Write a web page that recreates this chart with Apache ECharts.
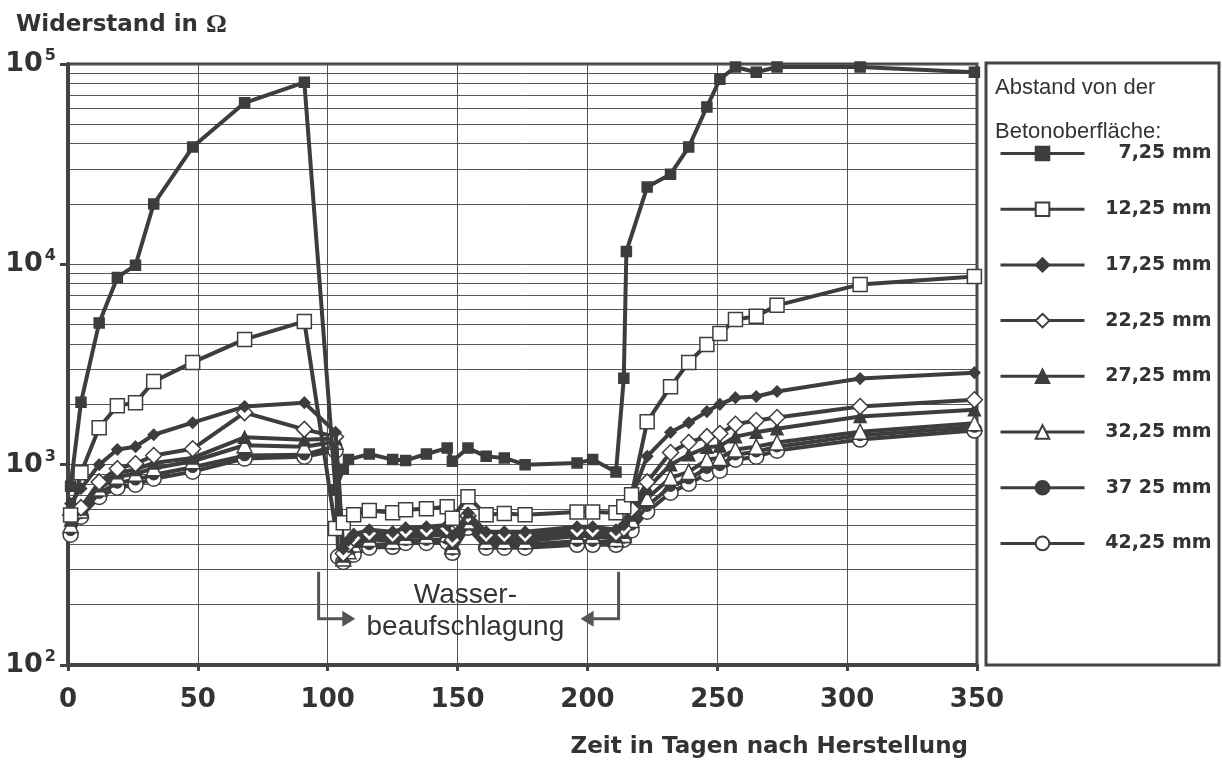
<!DOCTYPE html>
<html>
<head>
<meta charset="utf-8">
<title>Widerstand in Ohm</title>
<script src="https://cdn.jsdelivr.net/npm/echarts@6/dist/echarts.min.js"></script>
<style>
  html, body { margin: 0; padding: 0; background: #fff; }
  #chart { width: 1223px; height: 765px; }
</style>
</head>
<body>
<div id="chart"></div>
<script>
// Messtage (Tage nach Herstellung); null = kein Messpunkt fuer diese Reihe
const days = [1, 5, 12, 19, 26, 33, 48, 68, 91,
  103, 104, 106, 108, 110,
  116, 125, 130, 138, 146, 148, 154, 161, 168, 176,
  196, 202, 211, 214, 215, 217,
  223, 232, 239, 246, 251, 257, 265, 273, 305, 349];

const s725 = [780, 2050, 5100, 8600, 9900, 20000, 38500, 64000, 81000,
  750, null, 950, 1060, null,
  1130, 1060, 1050, 1130, 1210, 1040, 1210, 1100, 1080, 1000,
  1020, 1060, 920, 2700, 11600, null,
  24300, 28200, 38500, 61000, 84000, 96600, 91000, 96600, 96600, 91000];
const s1225 = [560, 910, 1530, 1970, 2040, 2600, 3240, 4220, 5190,
  480, null, 513, null, 562,
  590, 575, 596, 603, 617, 540, 692, 562, 570, 562,
  580, 580, 575, 617, null, 708,
  1640, 2450, 3240, 3980, 4520, 5300, 5500, 6240, 7940, 8700];
const s1725 = [640, 760, 1000, 1190, 1230, 1410, 1620, 1950, 2040,
  1450, null, 380, 420, 450,
  473, 462, 484, 490, 500, 440, 575, 462, 462, 462,
  490, 490, 473, 500, null, 690,
  1100, 1450, 1620, 1840, 2000, 2160, 2190, 2320, 2690, 2880];
const s2225 = [560, 610, 820, 955, 1010, 1110, 1200, 1820, 1500,
  1380, null, 360, 400, 430,
  455, 445, 465, 470, 480, 420, 555, 445, 445, 445,
  470, 470, 455, 480, null, 600,
  820, 1150, 1290, 1380, 1430, 1590, 1660, 1720, 1950, 2110];
const s2725 = [530, 600, 785, 910, 945, 1020, 1080, 1370, 1330,
  1350, null, 350, 385, 415,
  440, 430, 450, 455, 465, 405, 540, 430, 430, 430,
  455, 455, 440, 460, null, 560,
  760, 1000, 1120, 1220, 1240, 1380, 1450, 1510, 1740, 1880];
const s3225 = [500, 590, 760, 870, 900, 960, 1040, 1250, 1230,
  1300, null, 340, 370, 400,
  425, 415, 435, 440, 450, 390, 520, 415, 415, 415,
  440, 440, 425, 445, null, 530,
  680, 860, 920, 1060, 1080, 1190, 1230, 1290, 1460, 1610];
const s3725 = [470, 570, 720, 810, 840, 890, 970, 1110, 1120,
  1240, null, 335, 360, 385,
  400, 400, 420, 420, 425, 375, 500, 400, 400, 400,
  415, 415, 410, 430, null, 500,
  620, 780, 850, 960, 990, 1120, 1160, 1230, 1400, 1540];
const s4225 = [447, 550, 690, 767, 794, 851, 923, 1072, 1096,
  1175, 347, 327, null, 355,
  385, 389, 407, 407, 410, 363, 484, 385, 385, 385,
  398, 398, 398, 422, null, 470,
  582, 724, 804, 902, 933, 1059, 1096, 1175, 1334, 1480];

const names = ["7,25 mm", "12,25 mm", "17,25 mm", "22,25 mm",
  "27,25 mm", "32,25 mm", "37 25 mm", "42,25 mm"];
const values = [s725, s1225, s1725, s2225, s2725, s3225, s3725, s4225];

// log-Hilfslinien 2..9 je Dekade
const mantissas = [2, 3, 4, 5, 6, 7, 8, 9];
const decades = [100, 1000, 10000];

// Annotation "Wasserbeaufschlagung" (Tag, Widerstand)
const bracketLeft = [[96.5, 292], [96.5, 170], [106, 170]];
const bracketRight = [[212, 292], [212, 170], [202, 170]];
const noteText = [[153, 222, "Wasser-"], [153, 154, "beaufschlagung"]];

const ink = "#3d3d3d";
const gridInk = "#555";
const sans = "Liberation Sans, Arial, sans-serif";
const wide = "DejaVu Sans, sans-serif";

const markers = [
  { symbol: "rect", size: 10, filled: true },
  { symbol: "rect", size: 14, filled: false },
  { symbol: "diamond", size: 11, filled: true },
  { symbol: "diamond", size: 16, filled: false },
  { symbol: "triangle", size: 12, filled: true },
  { symbol: "triangle", size: 15, filled: false },
  { symbol: "circle", size: 10, filled: true },
  { symbol: "circle", size: 15, filled: false },
];

function pairs(vals) {
  return days.map((d, i) => [d, vals[i]]).filter((p) => p[1] != null);
}

const chart = echarts.init(document.getElementById("chart"));

const minorLines = [];
decades.forEach((d) => {
  mantissas.forEach((m) => minorLines.push({ yAxis: d * m }));
});

const dataSeries = names.map((name, i) => ({
  name: name,
  type: "line",
  data: pairs(values[i]),
  symbol: markers[i].symbol,
  symbolSize: markers[i].size,
  showSymbol: true,
  lineStyle: { color: ink, width: 4 },
  itemStyle: {
    color: markers[i].filled ? ink : "#fff",
    borderColor: ink,
    borderWidth: 1.5,
  },
  emphasis: { disabled: true },
  z: 10 + (8 - i),
}));

const option = {
  animation: false,
  backgroundColor: "#fff",
  title: [
    {
      text: "{a|Widerstand in }{o|Ω}",
      left: 11,
      top: 7,
      textStyle: {
        rich: {
          a: { fontFamily: wide, fontSize: 23, fontWeight: "bold", color: "#333" },
          o: { fontFamily: "Liberation Serif, serif", fontSize: 26, color: "#333" },
        },
      },
    },
    {
      text: "Zeit in Tagen nach Herstellung",
      right: 250,
      top: 731,
      textStyle: { fontFamily: wide, fontSize: 23, fontWeight: "bold", color: "#333" },
    },
  ],
  grid: {
    left: 68,
    right: 246,
    top: 64,
    bottom: 100,
    show: true,
    borderColor: "#444",
    borderWidth: 3,
  },
  legend: {
    data: names,
    orient: "vertical",
    left: 994,
    top: 139,
    itemWidth: 84,
    itemHeight: 17,
    itemGap: 36.7,
    lineStyle: { width: 3 },
    selectedMode: false,
    formatter: (n) => "{r|" + n + "}",
    textStyle: {
      rich: {
        r: {
          width: 122,
          align: "right",
          fontFamily: wide,
          fontSize: 19,
          fontWeight: "bold",
          color: "#333",
          lineHeight: 22,
        },
      },
    },
  },
  xAxis: {
    type: "value",
    min: 0,
    max: 350,
    interval: 50,
    axisLine: { show: true, lineStyle: { color: "#444", width: 4 } },
    axisTick: { show: true, length: 6, lineStyle: { color: "#444", width: 3 } },
    axisLabel: {
      margin: 22,
      fontFamily: wide,
      fontSize: 26,
      fontWeight: "bold",
      color: "#333",
    },
    splitLine: { show: true, lineStyle: { color: gridInk, width: 1 } },
  },
  yAxis: {
    type: "log",
    logBase: 10,
    min: 100,
    max: 100000,
    axisLine: { show: true, lineStyle: { color: "#444", width: 4 } },
    axisTick: { show: true, length: 8, lineStyle: { color: "#444", width: 3 } },
    axisLabel: {
      margin: 12,
      formatter: (v) => "{b|10}{s|" + Math.round(Math.log10(v)) + "}",
      rich: {
        b: { fontFamily: wide, fontSize: 27, fontWeight: "bold", color: "#333", lineHeight: 32 },
        s: { fontFamily: wide, fontSize: 16, fontWeight: "bold", color: "#333", verticalAlign: "top", lineHeight: 32, padding: [0, 0, 0, 2] },
      },
    },
    splitLine: { show: true, lineStyle: { color: gridInk, width: 1 } },
  },
  graphic: [
    {
      id: "legendBox",
      type: "rect",
      shape: { x: 986, y: 63, width: 233, height: 602 },
      style: { fill: "none", stroke: "#444", lineWidth: 3 },
      z: 1,
    },
    {
      id: "legendHead1",
      type: "text",
      left: 995,
      top: 77,
      style: { text: "Abstand von der", font: "22px " + sans, fill: "#333" },
    },
    {
      id: "legendHead2",
      type: "text",
      left: 995,
      top: 121,
      style: { text: "Betonoberfläche:", font: "22px " + sans, fill: "#333" },
    },
  ],
  series: [
    {
      name: "_minor",
      type: "line",
      data: [],
      silent: true,
      markLine: {
        silent: true,
        symbol: "none",
        label: { show: false },
        lineStyle: { color: gridInk, width: 1, type: "solid" },
        data: minorLines,
      },
      z: 1,
    },
  ].concat(dataSeries),
};

chart.setOption(option);

// Klammern, Pfeile und Text der Wasserbeaufschlagung ueber die Achsen platzieren
function drawNote() {
  const px = (p) => chart.convertToPixel({ gridIndex: 0 }, p);
  const items = [];
  [bracketLeft, bracketRight].forEach((b, k) => {
    const pts = b.map(px);
    items.push({
      id: "bracket" + k,
      type: "polyline",
      shape: { points: pts },
      style: { stroke: "#555", lineWidth: 3, fill: null },
      z: 5,
    });
    const a = pts[pts.length - 2];
    const e = pts[pts.length - 1];
    const dir = Math.sign(e[0] - a[0]);
    items.push({
      id: "arrow" + k,
      type: "polygon",
      shape: {
        points: [[e[0] + dir * 12, e[1]], [e[0] - dir * 1, e[1] - 8], [e[0] - dir * 1, e[1] + 8]],
      },
      style: { fill: "#555" },
      z: 5,
    });
  });
  noteText.forEach((t, k) => {
    const p = px([t[0], t[1]]);
    items.push({
      id: "note" + k,
      type: "text",
      x: p[0],
      y: p[1],
      style: {
        text: t[2],
        font: "28px " + sans,
        fill: "#333",
        align: "center",
        verticalAlign: "middle",
      },
      z: 5,
    });
  });
  chart.setOption({ graphic: items });
}

drawNote();
</script>
</body>
</html>
